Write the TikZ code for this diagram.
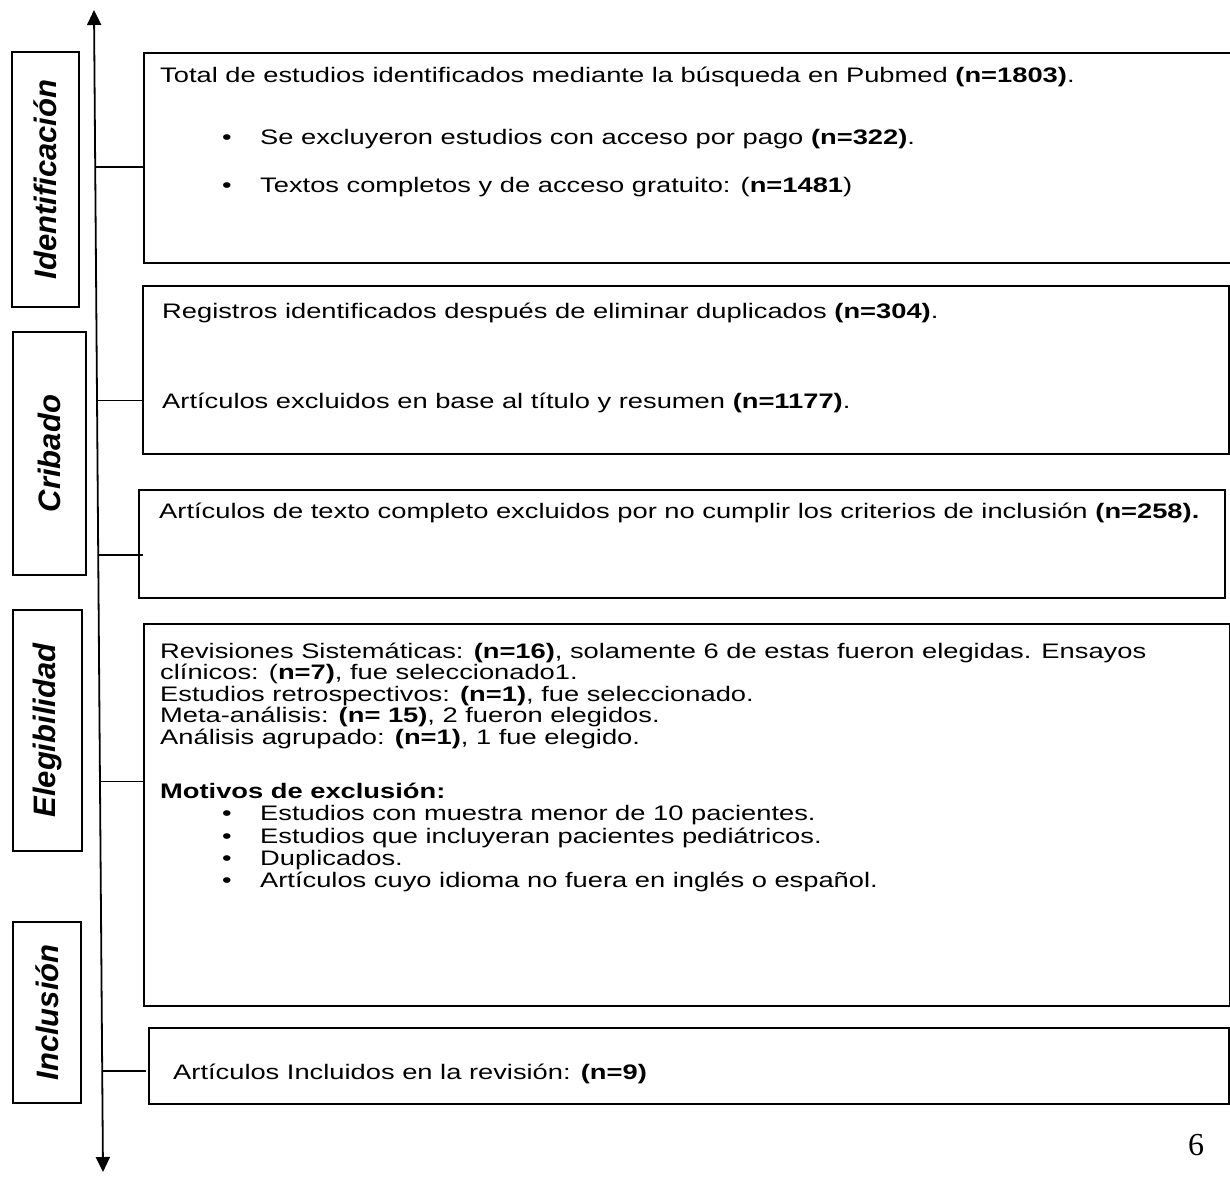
\documentclass[tikz,border=0pt]{standalone}
\usepackage{fontspec}
\setmainfont{Liberation Sans}[FakeStretch=1.3]
\newfontfamily\stagefont{Liberation Sans}
\newfontfamily\folio{Liberation Serif}
\usetikzlibrary{arrows.meta,calc}

\tikzset{
  stagebox/.style = {
    draw,
    line width = 1.6pt,
    inner sep  = 0pt,
    rotate     = 90,
    font       = \fontsize{31}{31}\selectfont\stagefont\bfseries\itshape
  },
  stepbox/.style = {
    draw,
    line width = 1.6pt,
    inner sep  = 0pt,
    anchor     = north west
  },
  steptext/.style = {
    anchor     = base west,
    inner sep  = 0pt,
    align      = left,
    font       = \fontsize{21}{21.5}\selectfont
  },
  link/.style = {line width=1.4pt},
  axisline/.style = {line width=1.8pt, {Triangle[width=14pt,length=15pt]}-{Triangle[width=14pt,length=15pt]}}
}
\newcommand{\bulletline}[1]{\hspace*{62pt}\makebox[38pt][l]{\textbullet}#1}

\begin{document}
\begin{tikzpicture}[x=1pt,y=-1pt]
  \useasboundingbox (0,0) rectangle (1230,1182);

  % fases
  \node[stagebox, minimum width=255pt, minimum height=67pt] (fident) at (45.5,179.5) {Identificación};
  \node[stagebox, minimum width=243pt, minimum height=73pt] (fcrib)  at (49.5,453.5) {Cribado};
  \node[stagebox, minimum width=241pt, minimum height=69pt] (felig)  at (47.5,730.5) {Elegibilidad};
  \node[stagebox, minimum width=181pt, minimum height=68pt] (fincl)  at (47,1012.5) {Inclusión};

  % eje
  \coordinate (top)    at (94,10);
  \coordinate (bottom) at (103,1172);
  \draw[axisline] (bottom) -- (top);

  % cajas
  \node[stepbox, minimum width=1100pt, minimum height=210pt] (busqueda) at (143,52) {};
  \node[stepbox, minimum width=1086pt, minimum height=168pt] (registros) at (142,285) {};
  \node[stepbox, minimum width=1086pt, minimum height=108pt] (textocomp) at (138,489) {};
  \node[stepbox, minimum width=1086pt, minimum height=382pt] (elegibles) at (143,623) {};
  \node[stepbox, minimum width=1080pt, minimum height=76pt] (incluidos) at (148,1027) {};

  % textos
  \node[steptext] (t1) at (160,83) {Total de estudios identificados mediante la búsqueda en Pubmed \textbf{(n=1803)}.};
  \node[steptext] (t2) at (160,145) {\bulletline{Se excluyeron estudios con acceso por pago \textbf{(n=322)}.}};
  \node[steptext] (t3) at (160,193) {\bulletline{Textos completos y de acceso gratuito: (\textbf{n=1481})}};
  \node[steptext] (t4) at (162,318) {Registros identificados después de eliminar duplicados \textbf{(n=304)}.};
  \node[steptext] (t5) at (162,408) {Artículos excluidos en base al título y resumen \textbf{(n=1177)}.};
  \node[steptext] (t6) at (159,518) {Artículos de texto completo excluidos por no cumplir los criterios de inclusión \textbf{(n=258).}};
  % base = ultima linea
  \node[steptext] (t7) at (160,887) {Revisiones Sistemáticas: \textbf{(n=16)}, solamente 6 de estas fueron elegidas. Ensayos\\
    clínicos: (\textbf{n=7)}, fue seleccionado1.\\
    Estudios retrospectivos: \textbf{(n=1)}, fue seleccionado.\\
    Meta-análisis: \textbf{(n= 15)}, 2 fueron elegidos.\\
    Análisis agrupado: \textbf{(n=1)}, 1 fue elegido.\\[32.5pt]
    \textbf{Motivos de exclusión:}\\[1pt]
    \bulletline{Estudios con muestra menor de 10 pacientes.}\\[1pt]
    \bulletline{Estudios que incluyeran pacientes pediátricos.}\\[0.5pt]
    \bulletline{Duplicados.}\\[0.5pt]
    \bulletline{Artículos cuyo idioma no fuera en inglés o español.}};
  \node[steptext] (t8) at (173,1079) {Artículos Incluidos en la revisión: \textbf{(n=9)}};

  % conectores
  \coordinate (c1) at ($(top)!0.135!(bottom)$);
  \coordinate (c2) at ($(top)!0.336!(bottom)$);
  \coordinate (c3) at ($(top)!0.469!(bottom)$);
  \coordinate (c4) at ($(top)!0.664!(bottom)$);
  \coordinate (c5) at ($(top)!0.913!(bottom)$);
  \draw[link] (c1) -- (c1 -| busqueda.west);
  \draw[link] (c2) -- (c2 -| registros.west);
  \draw[link] (c3) -- ([xshift=5pt]c3 -| textocomp.west);
  \draw[link] (c4) -- (c4 -| elegibles.west);
  \draw[link] (c5) -- ([xshift=-2pt]c5 -| incluidos.west);

  \node[font=\fontsize{32}{32}\selectfont\folio] (pagina) at (1196,1145) {6};
\end{tikzpicture}
\end{document}
